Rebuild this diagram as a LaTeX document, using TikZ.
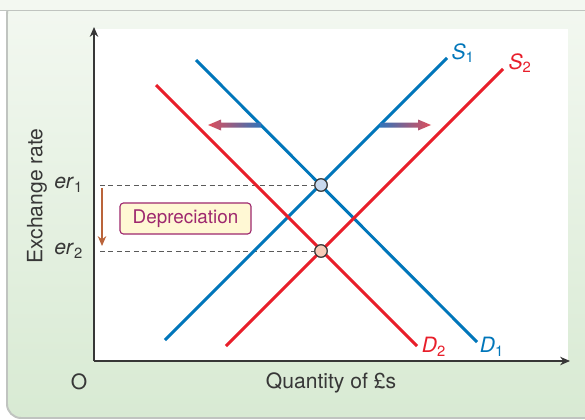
\documentclass[tikz,border=0pt]{standalone}
\usepackage{fontspec}
\setmainfont{TeX Gyre Heros}
\usetikzlibrary{arrows.meta}
\definecolor{supblue}{RGB}{0,118,186}
\definecolor{demred}{RGB}{232,30,42}
\definecolor{paneltop}{RGB}{243,248,241}
\definecolor{panelbot}{RGB}{216,234,211}
\definecolor{framegray}{RGB}{192,196,192}
\definecolor{axisgray}{RGB}{55,55,55}
\definecolor{guidegray}{RGB}{90,90,90}
\definecolor{boxfill}{RGB}{255,248,212}
\definecolor{boxline}{RGB}{158,40,110}
\definecolor{depbrown}{RGB}{186,100,58}
\definecolor{shiftblue}{RGB}{50,115,185}
\definecolor{shiftpurple}{RGB}{192,122,192}
\definecolor{shiftred}{RGB}{222,78,92}
\definecolor{eqblue}{RGB}{201,217,238}
\definecolor{eqpink}{RGB}{246,203,184}

\begin{document}
\begin{tikzpicture}[x=0.025cm,y=-0.025cm,>=Stealth,
  curve/.style={line width=2.1pt},
  axisline/.style={line width=1.1pt,draw=axisgray,-{Stealth[length=7pt,width=6pt]}},
  guide/.style={dash pattern=on 3.5pt off 2.5pt,line width=0.7pt,draw=guidegray},
  eqpt/.style={circle,draw=axisgray,line width=0.8pt,minimum size=0.31cm,inner sep=0pt},
  lbl/.style={font=\fontsize{15}{18}\selectfont,text=axisgray}]
\useasboundingbox (0,0) rectangle (585,420);
% ================= panel =================
\fill[white] (0,0) rectangle (585,420);
\shade[top color=paneltop,bottom color=panelbot,draw=framegray,line width=1.4pt,rounded corners=10]
  (7,0) rectangle (640,418);
\fill[paneltop] (0,0) rectangle (585,10);
\draw[framegray,line width=1.4pt] (0,10.5) -- (585,10.5);
\fill[white] (94,29) rectangle (568,361);
% ================= axes =================
\coordinate (O) at (94,361);
\coordinate (ytop) at (94,27);
\coordinate (xend) at (570,361);
\draw[axisline] (O) -- (ytop);
\draw[axisline] (O) -- (xend);
\node[lbl] (olab) at (79,382) {O};
\node[lbl] (xlab) at (331,383) {Quantity of £s};
\node[lbl,rotate=90] (ylab) at (37,196) {Exchange rate};
% ================= curves =================
\coordinate (s1a) at (165,340);
\coordinate (s1b) at (447,58);
\coordinate (d1a) at (196,60);
\coordinate (d1b) at (477,342);
\coordinate (s2a) at (226,346);
\coordinate (s2b) at (503,69);
\coordinate (d2a) at (156,85);
\coordinate (d2b) at (417,346);
% dashed guides to the two equilibria
\coordinate (er1pt) at (100,185);
\coordinate (er2pt) at (100,251);
\node[eqpt,fill=eqblue] (e1) at (321,185) {};
\node[eqpt,fill=eqpink] (e2) at (321,251) {};
\draw[guide] (er1pt) -- (e1);
\draw[guide] (er2pt) -- (e2);
\draw[curve,supblue] (s1a) -- (s1b);
\draw[curve,supblue] (d1a) -- (d1b);
\draw[curve,demred] (s2a) -- (s2b);
\draw[curve,demred] (d2a) -- (d2b);
% redraw points on top
\node[eqpt,fill=eqblue] at (e1) {};
\node[eqpt,fill=eqpink] at (e2) {};
\node[lbl,text=supblue] (s1lab) at (463,53) {\textit{S}\textsubscript{1}};
\node[lbl,text=demred] (s2lab) at (520,63) {\textit{S}\textsubscript{2}};
\node[lbl,text=supblue] (d1lab) at (492,347) {\textit{D}\textsubscript{1}};
\node[lbl,text=demred] (d2lab) at (434,347) {\textit{D}\textsubscript{2}};
\node[lbl,anchor=east] (er1) at (88,185) {\textit{er}\textsubscript{1}};
\node[lbl,anchor=east] (er2) at (88,251) {\textit{er}\textsubscript{2}};
% ================= shift arrows =================
\shade[left color=shiftred,middle color=shiftpurple,right color=shiftblue]
  (261,122.5) -- (221,122.5) -- (221,119.5) -- (208,125) -- (221,130.5) -- (221,127.5) -- (261,127.5) -- cycle;
\shade[left color=shiftblue,middle color=shiftpurple,right color=shiftred]
  (380,122.5) -- (418,122.5) -- (418,119.5) -- (431,125) -- (418,130.5) -- (418,127.5) -- (380,127.5) -- cycle;
% ================= depreciation =================
\coordinate (deptop) at (102,188);
\coordinate (depbot) at (102,246);
\draw[depbrown,line width=1.1pt,-{Stealth[length=7pt,width=6pt]}] (deptop) -- (depbot);
\node[draw=boxline,fill=boxfill,line width=0.8pt,rounded corners=2.5pt,text=boxline,
  minimum width=3.275cm,minimum height=0.775cm,font=\fontsize{13.4}{16}\selectfont]
  (dep) at (185.5,218.5) {Depreciation};
\end{tikzpicture}
\end{document}
